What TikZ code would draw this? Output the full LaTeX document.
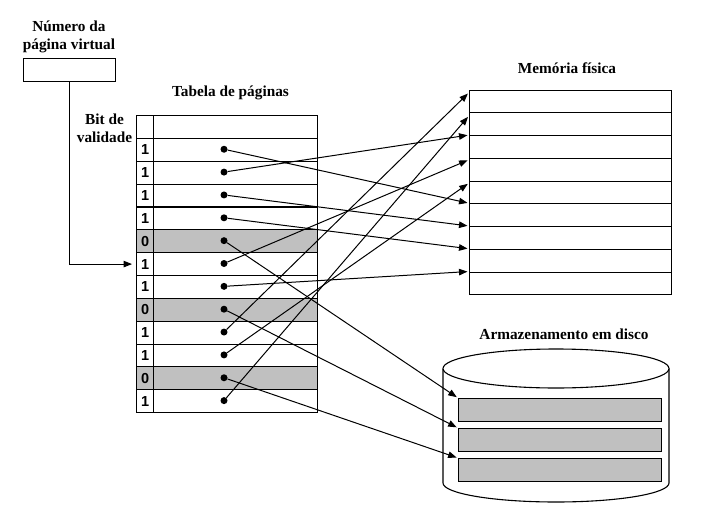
\documentclass[tikz,border=0pt]{standalone}
\usepackage{fontspec}
\setmainfont{Liberation Serif}
\newfontfamily\arialfont{Liberation Sans}
\usepackage{xcolor}
\usepackage{tikz}
\usetikzlibrary{arrows.meta,positioning}
\definecolor{slotgray}{RGB}{192,192,192}

\begin{document}
\begin{tikzpicture}[
    x=1pt, y=-1pt,
    font=\fontsize{15.3}{18}\selectfont\bfseries,
    title/.style={align=center, inner sep=0pt},
    cell/.style={draw, line width=1.1pt, anchor=north west, inner sep=0pt,
                 minimum width=181pt, minimum height=22.85pt},
    bit/.style={draw, line width=1.1pt, anchor=west, inner sep=0pt,
                minimum width=17pt, minimum height=22.85pt,
                font=\fontsize{14.5}{14.5}\selectfont\arialfont\bfseries},
    frame/.style={draw, line width=1.1pt, anchor=north west, inner sep=0pt,
                  minimum width=202pt, minimum height=22.75pt},
    slot/.style={draw, line width=0.9pt, fill=slotgray, anchor=north west,
                 inner sep=0pt, minimum width=203pt, minimum height=22.5pt},
    dot/.style={circle, fill, inner sep=0pt, minimum size=7pt},
    line/.style={-{Triangle[length=8.5pt,width=6.5pt]}, line width=1pt, shorten >=1.5pt}
]
\useasboundingbox (0,0) rectangle (722,519);

% titulos
\node[title] (vpntxt) at (69,36.5) {Número da\\página virtual};
\node[title, anchor=base] (tabtxt) at (230.5,96) {Tabela de páginas};
\node[title] (bittxt) at (104.5,128) {Bit de\\validade};
\node[title, anchor=base] (memtxt) at (567,74) {Memória física};
\node[title, anchor=base] (disktxt) at (564,339) {Armazenamento em disco};

% numero da pagina virtual
\node[draw, line width=1.1pt, anchor=north west, minimum width=92pt, minimum height=23pt] (vpn) at (23,58) {};

% tabela de paginas
\node[cell] (r0) at (136,115) {};
\node[bit] (b0) at (r0.west) {};
\foreach \v/\c [count=\i] in {1/white,1/white,1/white,1/white,0/slotgray,1/white,
                               1/white,0/slotgray,1/white,1/white,0/slotgray,1/white} {
  \node[cell, fill=\c] (r\i) at (136,115+22.85*\i) {};
  \node[bit] (b\i) at (r\i.west) {\v};
  \node[dot] (d\i) at (224,126.4+22.85*\i) {};
}

% memoria fisica
\foreach \i in {0,...,8}
  \node[frame] (f\i) at (469,89.5+22.75*\i) {};

% disco
\draw[line width=1.1pt, fill=white] (443,368.5) -- (443,483)
  arc[start angle=180, end angle=360, x radius=113pt, y radius=19pt] -- (669,368.5);
\draw[line width=1.1pt, fill=white] (556,368.5) ellipse[x radius=113pt, y radius=19.5pt];
\foreach \i in {1,2,3}
  \node[slot] (s\i) at (458,368+30*\i) {};

% ligacoes
\draw[line, shorten >=4pt] (vpn.south) |- (b6.west);
\draw[line] (d1)  -- (f5.north west);
\draw[line] (d2)  -- (f2.north west);
\draw[line] (d3)  -- (f6.north west);
\draw[line] (d4)  -- (f7.north west);
\draw[line] (d5)  -- (s1.north west);
\draw[line] (d6)  -- ([yshift=-2pt]f3.north west);
\draw[line] (d7)  -- (f8.north west);
\draw[line] (d8)  -- (s2.north west);
\draw[line] (d9)  -- ([yshift=-3pt]f0.north west);
\draw[line] (d10) -- ([yshift=-2.5pt]f4.north west);
\draw[line] (d11) -- (s3.north west);
\draw[line] (d12) -- ([yshift=-3.5pt]f1.north west);
\end{tikzpicture}
\end{document}
